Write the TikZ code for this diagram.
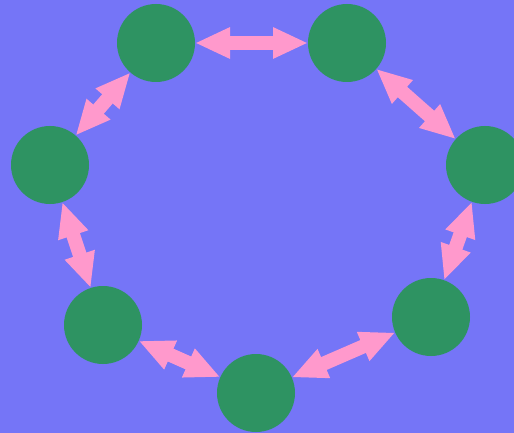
\documentclass[tikz,border=0pt]{standalone}
\usetikzlibrary{arrows.meta}
\definecolor{bg}{HTML}{7575F7}
\definecolor{dot}{HTML}{2E9362}
\definecolor{link}{HTML}{FF99CC}
\begin{document}
\begin{tikzpicture}[x=1pt,y=-1pt,
  station/.style={circle,fill=dot,minimum size=78pt,inner sep=0pt,outer sep=0pt},
  twoway/.style={link,line width=14pt,
    {Triangle[length=35pt,width=29pt]}-{Triangle[length=35pt,width=29pt]}}]
\fill[bg] (0,0) rectangle (514,433);
\useasboundingbox (0,0) rectangle (514,433);
\node[station] (n1) at (156,43) {};
\node[station] (n2) at (347,43) {};
\node[station] (n3) at (485,165) {};
\node[station] (n4) at (431,317) {};
\node[station] (n5) at (256,393) {};
\node[station] (n6) at (103,325) {};
\node[station] (n7) at (50,165) {};
\draw[twoway] (n1) -- (n2);
\draw[twoway] (n2) -- (n3);
\draw[twoway] (n3) -- (n4);
\draw[twoway] (n4) -- (n5);
\draw[twoway] (n5) -- (n6);
\draw[twoway] (n6) -- (n7);
\draw[twoway] (n7) -- (n1);
\end{tikzpicture}
\end{document}
